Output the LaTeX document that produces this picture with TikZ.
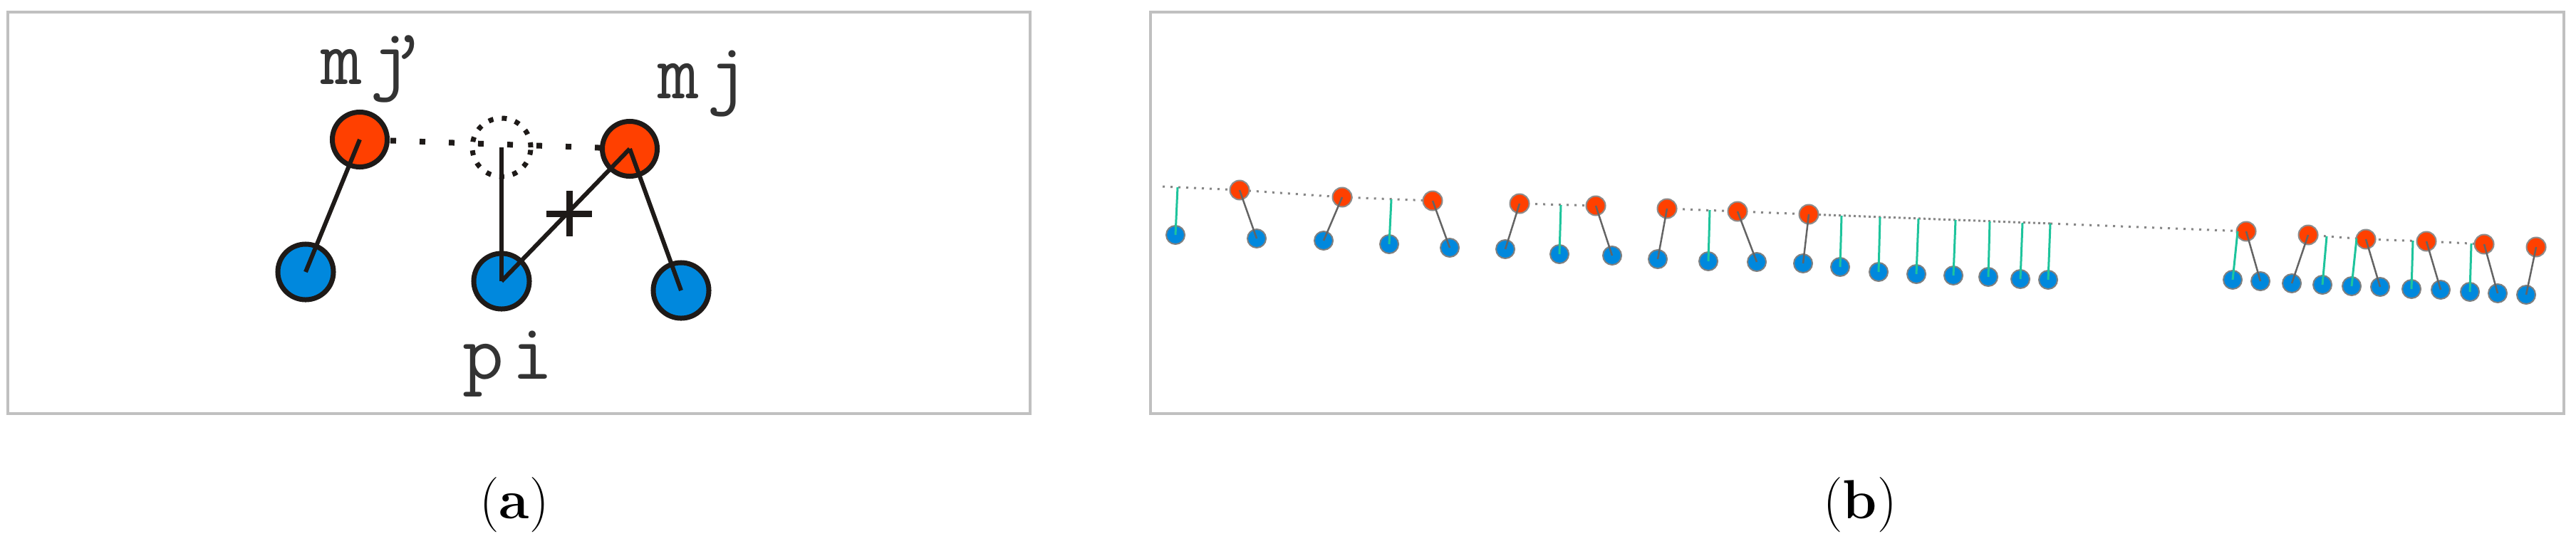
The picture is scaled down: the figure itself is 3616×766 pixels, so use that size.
\documentclass[tikz,border=0pt]{standalone}
\usepackage{fontspec}
\definecolor{ptred}{RGB}{255,64,0}
\definecolor{ptblue}{RGB}{0,136,221}
\definecolor{framegray}{RGB}{192,192,192}
\definecolor{tealline}{RGB}{30,196,156}
\definecolor{dotgray}{RGB}{135,135,135}
\definecolor{linkgray}{RGB}{100,100,100}
\definecolor{ink}{RGB}{30,26,24}
\tikzset{
  panelframe/.style={draw=framegray, line width=0.04cm},
  bigred/.style={circle, fill=ptred, draw=ink, line width=0.07cm, minimum size=0.77cm, inner sep=0pt},
  bigblue/.style={circle, fill=ptblue, draw=ink, line width=0.07cm, minimum size=0.78cm, inner sep=0pt},
  ghost/.style={circle, draw=ink, line width=0.07cm, dash pattern=on 0.07cm off 0.12cm, minimum size=0.82cm, inner sep=0pt},
  biglink/.style={draw=ink, line width=0.06cm},
  bigdots/.style={draw=ink, line width=0.08cm, dash pattern=on 0.08cm off 0.33cm, dash phase=0.39cm},
  crossmark/.style={draw=ink, line width=0.09cm},
  mlabel/.style={font=\ttfamily\fontsize{32}{36}\selectfont, text=black!80, anchor=base west, inner sep=0pt},
  sublabel/.style={font=\fontsize{22}{26}\selectfont, anchor=center, inner sep=0pt},
  smred/.style={circle, fill=ptred, draw=black!45, line width=0.02cm, minimum size=0.27cm, inner sep=0pt},
  smblue/.style={circle, fill=ptblue, draw=black!50, line width=0.02cm, minimum size=0.26cm, inner sep=0pt},
  bdots/.style={draw=dotgray, line width=0.03cm, dash pattern=on 0.03cm off 0.08cm},
  bdense/.style={draw=dotgray, line width=0.03cm, dash pattern=on 0.03cm off 0.04cm},
  glink/.style={draw=linkgray, line width=0.025cm},
  tlink/.style={draw=tealline, line width=0.03cm},
}
\begin{document}
\begin{tikzpicture}[x=0.01cm, y=-0.01cm]
\useasboundingbox (0,0) rectangle (3616,766);
\fill[white] (0,0) rectangle (3616,766);

% ---------------- panel (a) ----------------
\draw[panelframe] (11,17) rectangle (1446,581);

\coordinate (mjpc) at (505,196);
\coordinate (mjc) at (884,209);
\draw[bigdots] (mjpc) -- (mjc);

\node[bigred]  (mjp)  at (mjpc) {};
\node[ghost]   (gh)   at (704,207) {};
\node[bigred]  (mj)   at (mjc) {};
\node[bigblue] (bl)   at (429,382) {};
\node[bigblue] (pi)   at (704,395) {};
\node[bigblue] (br)   at (956,408) {};

\draw[biglink] (mjp.center) -- (bl.center);
\draw[biglink] (gh.center) -- (pi.center);
\draw[biglink] (pi.center) -- (mj.center);
\draw[biglink] (mj.center) -- (br.center);

\coordinate (cx) at (799,300);
\draw[crossmark] ([yshift=0.32cm]cx) -- ([yshift=-0.32cm]cx);
\draw[crossmark] ([xshift=-0.32cm]cx) -- ([xshift=0.32cm]cx);

\node[mlabel] (lmjp) at (450,118) {m\kern0.1em j\kern-0.30em ’};
\node[mlabel] (lmj)  at (923,138) {m\kern0.1em j};
\node[mlabel] (lpi)  at (649,532) {p\kern0.1em i};

\node[sublabel] (capa) at (722,709) {(\textbf{a})};

% ---------------- panel (b) ----------------
\draw[panelframe] (1615,17) rectangle (3599,581);

\coordinate (s0) at (1632,262);
\coordinate (pm) at (2878,314);

% dotted lines (below circles)
\draw[bdots] (s0) -- (1740,267) -- (1884,277) -- (2011,282);
\draw[bdots] (2133,286) -- (2240,289);
\draw[bdots] (2340,293) -- (2439,297) -- (2539,301);
\draw[bdense] (2539,301) -- (pm);
\draw[bdots] (pm) -- (3153,325);
\draw[bdots] (3240,330) -- (3321,336) -- (3406,339) -- (3487,343);

% red points
\foreach \n/\x/\y in {1/1740/267, 2/1884/277, 3/2011/282, 4/2133/286, 5/2240/289,
  6/2340/293, 7/2439/297, 8/2539/301, A/3153/325, B/3240/330, C/3321/336,
  D/3406/339, E/3487/343, F/3560/347}
  \node[smred] (r\n) at (\x,\y) {};

% blue points linked to red points
\foreach \n/\x/\y in {1/1764/335, 2/1858/338, 3/2035/348, 4/2113/350, 5/2263/359,
  6/2327/364, 7/2466/368, 8/2531/370, A/3173/395, B/3217/398, C/3341/403,
  D/3426/407, E/3506/412, F/3546/414}
  \node[smblue] (q\n) at (\x,\y) {};

% blue points projected onto the dotted line
\foreach \n/\tx/\ty/\x/\y in {1/1653/263/1650/330, 2/1953/280/1950/343,
  3/2191/288/2189/357, 4/2400/295/2398/367, 5/2585/303/2583/375,
  6/2639/305/2637/382, 7/2693/307/2690/385, 8/2745/309/2742/387,
  9/2793/311/2791/389, 10/2839/313/2836/392, 11/2878/314/2875/393,
  12/3141/325/3134/393, 13/3266/332/3260/400, 14/3308/335/3301/402,
  15/3387/338/3385/406, 16/3469/342/3467/410}
{
  \coordinate (t\n) at (\tx,\ty);
  \node[smblue] (u\n) at (\x,\y) {};
}

% connectors on top
\foreach \n in {1,2,3,4,5,6,7,8,A,B,C,D,E,F}
  \draw[glink] (r\n.center) -- (q\n.center);
\foreach \n in {1,...,16}
  \draw[tlink] (t\n) -- (u\n.center);

\node[sublabel] (capb) at (2611,709) {(\textbf{b})};
\end{tikzpicture}
\end{document}
